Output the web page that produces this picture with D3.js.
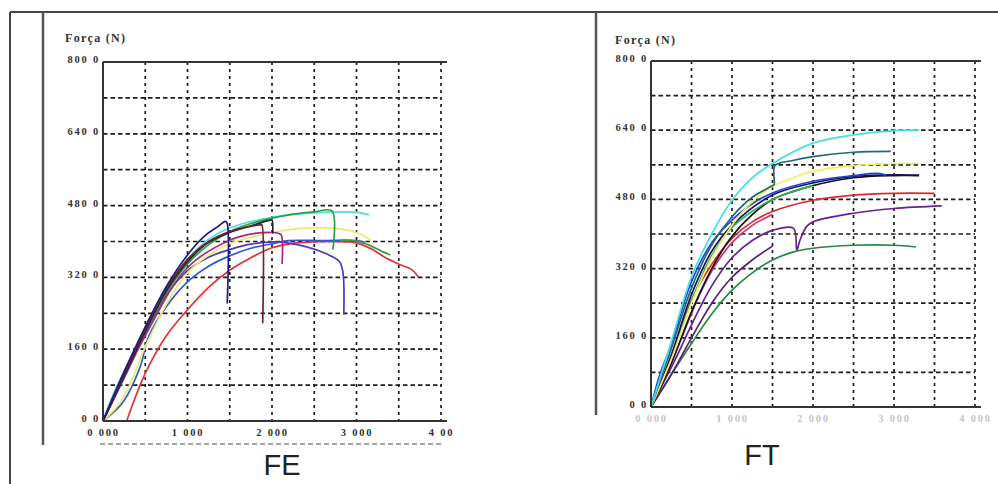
<!doctype html>
<html lang="en">
  <head>
    <meta charset="utf-8">
    <title>FE / FT</title>
    <script src="https://d3js.org/d3.v7.min.js"></script>
    <style>
      body { margin: 0; background: #fff; }
      .tick text { font-family: "Liberation Serif", serif; font-weight: bold; }
    </style>
  </head>
  <body onload='init()'>
    <div id='chart'></div>
    <script type="text/javascript">
    // ---- data (x: displacement, y: force N) ----
    var yTicks = [0, 160, 320, 480, 640, 800];
    var yTickLabels = ['0 0', '160 0', '320 0', '480 0', '640 0', '800 0'];
    var xTicks = [0, 1, 2, 3, 4];
    var feXTickLabels = ['0 000', '1 000', '2 000', '3 000', '4 00'];
    var ftXTickLabels = ['0 000', '1 000', '2 000', '3 000', '4 000'];
    var yTitle = 'Força (N)';

    // FE curves
    var feRed = [[0.28,0],[0.5,106],[0.75,190],[1.0,248],[1.25,298],[1.5,336],[1.75,364],[2.0,386],[2.25,396],[2.5,399],[2.75,400],[3.0,397],[3.2,381],[3.35,363],[3.52,348],[3.65,338],[3.73,321]];
    var feBlue = [[0,0],[0.24,43],[0.44,121],[0.54,188],[0.75,255],[1.0,310],[1.25,345],[1.5,368],[1.75,385],[2.0,395],[2.2,402],[2.6,402],[3.0,402],[3.1,398]];
    var fePurpleBlue = [[0,0],[0.3,115],[0.5,195],[0.75,280],[1.0,335],[1.25,365],[1.5,382],[1.75,394],[2.06,399],[2.41,388],[2.65,372],[2.8,355],[2.84,330],[2.85,237]];
    var feYellow = [[0,0],[0.2,40],[0.35,95],[0.5,165],[0.75,260],[1.0,330],[1.25,370],[1.5,395],[2.0,420],[2.4,430],[2.8,428],[3.0,420],[3.17,403]];
    var feCyan = [[0,0],[0.1,50],[0.3,130],[0.5,205],[0.75,295],[1.0,360],[1.25,405],[1.5,430],[2.0,454],[2.5,464],[2.8,466],[3.0,465],[3.15,460]];
    var feGreen = [[0,0],[0.2,80],[0.4,160],[0.6,235],[0.8,300],[1.0,350],[1.25,393],[1.5,422],[1.75,440],[2.0,452],[2.25,461],[2.5,466],[2.71,468],[2.72,382]];
    var feGreenTail = [[2.8,403],[3.0,401],[3.15,392],[3.3,378],[3.4,370]];
    var feMagenta = [[0,0],[0.5,190],[1.0,342],[1.5,403],[1.8,418],[2.0,420],[2.08,418],[2.11,414],[2.12,350]];
    var feBlack = [[0,0],[0.15,60],[0.3,120],[0.5,200],[0.75,290],[1.0,355],[1.25,398],[1.5,420],[1.75,435],[1.99,448],[2.0,448],[2.01,418]];
    var feBrown = [[0,0],[0.12,50],[0.3,125],[0.5,205],[0.75,295],[1.0,360],[1.25,400],[1.5,422],[1.7,432],[1.87,437],[1.88,437],[1.89,218]];
    var feNavy = [[0,0],[0.1,45],[0.25,110],[0.5,210],[0.75,300],[1.0,370],[1.2,412],[1.35,432],[1.45,445],[1.47,440],[1.47,262]];

    // FT curves
    var ftGreen = [[0,0],[0.25,75],[0.5,147],[0.75,215],[1.0,270],[1.25,310],[1.5,340],[1.75,358],[2.0,367],[2.5,374],[3.0,374],[3.27,370]];
    var ftPurpleLow = [[0,0],[0.25,75],[0.5,160],[0.75,240],[1.0,300],[1.25,340],[1.5,372]];
    var ftPurple = [[0,0],[0.15,55],[0.3,110],[0.5,190],[0.75,280],[1.0,345],[1.25,385],[1.51,409],[1.76,413],[1.8,363],[1.84,386],[1.92,417],[2.0,428],[2.5,448],[3.0,459],[3.59,465]];
    var ftMagenta = [[0,0],[0.2,80],[0.4,170],[0.6,260],[0.8,330],[1.0,380],[1.25,420],[1.5,445]];
    var ftRed = [[0,0],[0.15,60],[0.3,140],[0.5,247],[0.75,330],[1.0,390],[1.25,428],[1.5,452],[2.0,478],[2.5,490],[3.0,494],[3.5,494]];
    var ftBlack = [[0,0],[0.25,100],[0.5,220],[0.75,320],[1.0,395],[1.25,445],[1.5,480],[1.75,498],[2.0,512],[2.5,530],[3.0,535],[3.31,535]];
    var ftLightGreen = [[0,0],[0.25,115],[0.5,245],[0.75,350],[1.0,415],[1.5,480],[2.0,512]];
    var ftNavy = [[0,0],[0.25,120],[0.5,260],[0.75,360],[1.0,420],[1.5,490],[2.0,518],[2.5,533],[3.0,537],[3.31,536]];
    var ftBlue = [[0,0],[0.1,70],[0.25,145],[0.5,290],[0.75,380],[1.0,432],[1.25,470],[1.5,495],[2.0,522],[2.5,535],[2.8,540],[2.9,536]];
    var ftYellow = [[0,0],[0.25,110],[0.5,240],[0.75,345],[1.0,420],[1.25,475],[1.5,510],[1.75,530],[2.0,545],[2.5,558],[3.0,563],[3.31,563]];
    var ftTeal = [[0,0],[0.25,135],[0.5,275],[0.75,375],[1.0,440],[1.25,485],[1.5,512],[1.52,515],[1.53,558],[1.75,570],[2.0,579],[2.5,589],[2.96,591]];
    var ftCyan = [[0,0],[0.1,60],[0.25,150],[0.5,301],[0.75,400],[1.0,478],[1.25,530],[1.5,563],[2.0,610],[2.5,629],[3.0,639],[3.31,640]];

    var feSeries = [feRed, feBlue, fePurpleBlue, feYellow, feCyan, feGreen, feGreenTail, feMagenta, feBlack, feBrown, feNavy];
    var feColors = ['#e03434', '#2a5ad8', '#4a3cc0', '#eee86a', '#52dde2', '#22a444', '#3a9a50', '#a02a86', '#222222', '#6e2234', '#1c1c7c'];
    var ftSeries = [ftGreen, ftPurpleLow, ftPurple, ftMagenta, ftRed, ftBlack, ftLightGreen, ftNavy, ftBlue, ftYellow, ftTeal, ftCyan];
    var ftColors = ['#228a40', '#5a2070', '#6a2090', '#d03078', '#e02828', '#151515', '#30b060', '#141464', '#2244dd', '#f0f058', '#206a78', '#44dfe8'];

    function init() {
        var svg = d3.select('#chart')
            .append('svg')
            .attr('width', 998)
            .attr('height', 484);

        // page frame
        var frame = svg.append('g').attr('stroke', '#454545').attr('fill', 'none');
        frame.append('line').attr('x1', 10).attr('x2', 998).attr('y1', 12).attr('y2', 12).attr('stroke-width', 2);
        frame.append('line').attr('x1', 10).attr('x2', 10).attr('y1', 12).attr('y2', 484).attr('stroke-width', 2);
        frame.append('line').attr('x1', 43).attr('x2', 43).attr('y1', 12).attr('y2', 445).attr('stroke-width', 2.5).attr('stroke', '#555');
        frame.append('line').attr('x1', 596).attr('x2', 596).attr('y1', 12).attr('y2', 415).attr('stroke-width', 2.5).attr('stroke', '#555');

        drawPanel(svg, {
            left: 103, right: 441, top: 62, bottom: 421, titleX: 65, titleY: 42,
            series: feSeries, colors: feColors, xLabels: feXTickLabels, xLabelFill: '#333',
            name: 'FE', nameX: 282, nameY: 475
        });
        drawPanel(svg, {
            left: 651, right: 975, top: 61, bottom: 407, titleX: 615, titleY: 44,
            series: ftSeries, colors: ftColors, xLabels: ftXTickLabels, xLabelFill: '#c6c6c6',
            name: 'FT', nameX: 762, nameY: 465
        });

        // faint dashed row under the FE x labels
        svg.append('line')
            .attr('x1', 100).attr('x2', 442).attr('y1', 444).attr('y2', 444)
            .attr('stroke', '#8a8a8a').attr('stroke-width', 1.5)
            .attr('stroke-dasharray', '5,3');
    }

    function drawPanel(svg, p) {
        var x = d3.scaleLinear().domain([0, 4]).range([p.left, p.right]);
        var y = d3.scaleLinear().domain([0, 800]).range([p.bottom, p.top]);
        var g = svg.append('g');

        // dashed grid
        g.append('g').selectAll('line')
            .data(d3.range(0.5, 4.01, 0.5))
            .enter().append('line')
            .attr('x1', function(d) {return x(d);})
            .attr('x2', function(d) {return x(d);})
            .attr('y1', p.top)
            .attr('y2', p.bottom)
            .attr('stroke', '#1e1e1e')
            .attr('stroke-width', 1.7)
            .attr('stroke-dasharray', '3,4');
        g.append('g').selectAll('line')
            .data(d3.range(80, 800, 80))
            .enter().append('line')
            .attr('x1', p.left)
            .attr('x2', x(4))
            .attr('y1', function(d) {return y(d);})
            .attr('y2', function(d) {return y(d);})
            .attr('stroke', '#1e1e1e')
            .attr('stroke-width', 1.7)
            .attr('stroke-dasharray', '4.5,3');

        // curves
        var line = d3.line()
            .x(function(d) {return x(d[0]);})
            .y(function(d) {return y(d[1]);})
            .curve(d3.curveCatmullRom.alpha(0.5));
        g.append('g').selectAll('path')
            .data(p.series)
            .enter().append('path')
            .attr('d', line)
            .attr('fill', 'none')
            .attr('stroke', function(d, i) {return p.colors[i];})
            .attr('stroke-width', 1.7)
            .attr('stroke-linejoin', 'round');

        // axis frame lines
        g.append('line').attr('x1', p.left).attr('x2', p.left).attr('y1', p.top).attr('y2', p.bottom)
            .attr('stroke', '#333').attr('stroke-width', 2);
        g.append('line').attr('x1', p.left).attr('x2', p.right + 6).attr('y1', p.bottom).attr('y2', p.bottom)
            .attr('stroke', '#333').attr('stroke-width', 2);
        g.append('line').attr('x1', p.left).attr('x2', p.right + 6).attr('y1', p.top).attr('y2', p.top)
            .attr('stroke', '#333').attr('stroke-width', 2);

        // y axis labels
        var yAxis = g.append('g')
            .attr('transform', 'translate(' + p.left + ',0)')
            .call(d3.axisLeft(y)
                .tickValues(yTicks)
                .tickSize(0)
                .tickPadding(3)
                .tickFormat(function(d, i) {return yTickLabels[i];}));
        yAxis.select('.domain').remove();
        yAxis.selectAll('text')
            .attr('dy', '0.05em')
            .style('font-size', '10.5px')
            .style('letter-spacing', '1.8px')
            .attr('fill', '#333');

        // x axis labels
        var xAxis = g.append('g')
            .attr('transform', 'translate(0,' + p.bottom + ')')
            .call(d3.axisBottom(x)
                .tickValues(xTicks)
                .tickSize(0)
                .tickPadding(8)
                .tickFormat(function(d, i) {return p.xLabels[i];}));
        xAxis.select('.domain').remove();
        xAxis.selectAll('text')
            .style('font-size', '10.5px')
            .style('letter-spacing', '1.8px')
            .attr('fill', p.xLabelFill);

        // axis title
        g.append('text')
            .attr('x', p.titleX)
            .attr('y', p.titleY)
            .style('font-family', '"Liberation Serif", serif')
            .style('font-weight', 'bold')
            .style('font-size', '12px')
            .style('letter-spacing', '1.3px')
            .attr('fill', '#333')
            .text(yTitle);

        // panel name
        g.append('text')
            .attr('x', p.nameX)
            .attr('y', p.nameY)
            .attr('text-anchor', 'middle')
            .style('font-family', '"Liberation Sans", Arial, sans-serif')
            .style('font-size', '29px')
            .attr('fill', '#222')
            .text(p.name);
    }
    </script>
  </body>
</html>
